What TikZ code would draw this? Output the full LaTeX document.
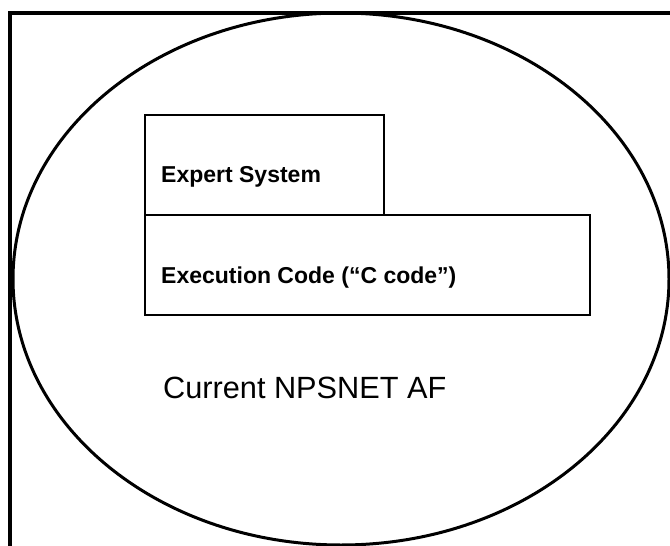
\documentclass[tikz,border=0pt]{standalone}
\usepackage{fontspec}
\setmainfont{Liberation Sans}
\usetikzlibrary{shapes.geometric}
\begin{document}
\begin{tikzpicture}[x=1pt,y=-1pt,
  boxstyle/.style={draw=black,line width=2.5pt,fill=none},
  lbl/.style={anchor=base west,inner sep=0pt,font=\bfseries\fontsize{23}{26}\selectfont},
  big/.style={anchor=base west,inner sep=0pt,font=\fontsize{30.7}{34}\selectfont}]
\useasboundingbox (0,0) rectangle (670,546);
% outer frame (left and top only)
\draw[line width=4pt] (9.5,546) -- (9.5,13) -- (670,13);
% ellipse
\node[draw,ellipse,line width=3pt,minimum width=656pt,minimum height=532pt,inner sep=0pt] (env) at (341,279) {};
% boxes
\node[boxstyle,minimum width=445pt,minimum height=100pt,inner sep=0pt] (exec) at (367.5,265) {};
\node[boxstyle,minimum width=239pt,minimum height=100pt,inner sep=0pt] (expert) at (264.5,165) {};
\node[lbl] (t1) at (161,182) {Expert System};
\node[lbl] (t2) at (161,283) {Execution Code (``C code'')};
\node[big] (t3) at (163,398) {Current NPSNET AF};
\end{tikzpicture}
\end{document}
